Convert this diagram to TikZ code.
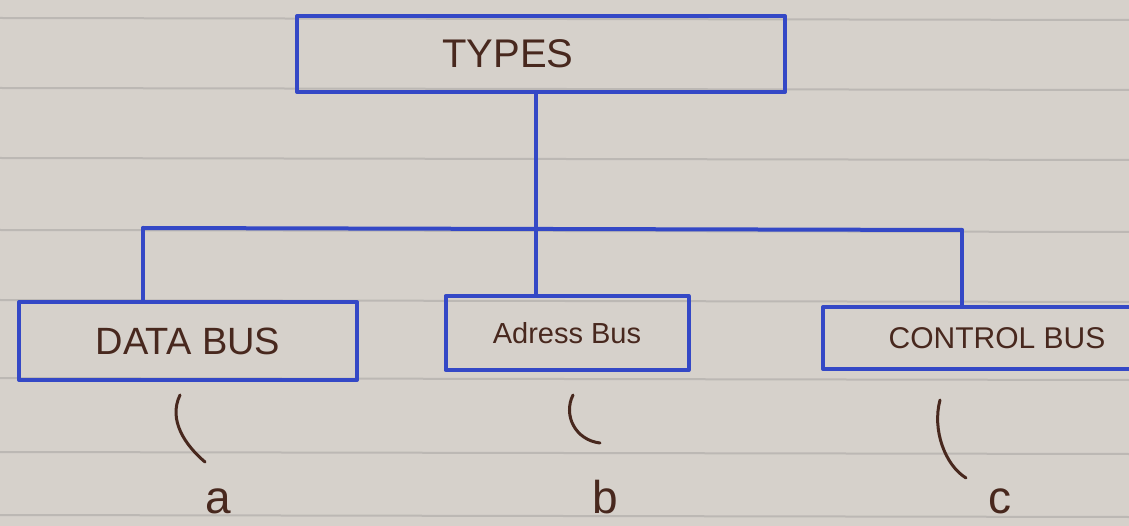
\documentclass[tikz,border=0pt]{standalone}
\usepackage{fontspec}
\setmainfont{Liberation Sans}
\definecolor{paper}{RGB}{214,209,203}
\definecolor{rule}{RGB}{188,184,180}
\definecolor{ink}{RGB}{52,72,198}
\definecolor{pen}{RGB}{72,40,30}
\begin{document}
\begin{tikzpicture}[x=1pt,y=-1pt,
  box/.style={draw=ink, line width=4pt, line join=round, rectangle, inner sep=0pt, text=pen},
  wire/.style={draw=ink, line width=4pt, line cap=round, line join=round},
  tick/.style={draw=pen, line width=3pt, line cap=round},
  letter/.style={text=pen, font=\fontsize{46}{46}\selectfont, inner sep=0pt, anchor=base}]
% paper and its ruling
\fill[paper] (0,0) rectangle (1129,526);
\useasboundingbox (0,0) rectangle (1129,526);
\foreach \y in {18,88,158,230,300,378,452,515}
  \draw[rule, line width=2pt] (0,\y) -- (1129,\y+2);

% boxes
\node[box, minimum width=488pt, minimum height=76pt,
      font=\fontsize{40}{40}\selectfont] (types) at (541,54) {\hspace*{-66pt}TYPES};
\node[box, minimum width=338pt, minimum height=78pt,
      font=\fontsize{38}{38}\selectfont] (data) at (188,341) {DATA BUS};
\node[box, minimum width=243pt, minimum height=74pt,
      font=\fontsize{29}{29}\selectfont] (adr) at (567,333) {Adress Bus};
\node[box, minimum width=312pt, minimum height=62pt, anchor=west,
      font=\fontsize{30}{30}\selectfont] (ctl) at (821,338) {\hspace*{36pt}CONTROL BUS};

% tree connectors
\coordinate (bl) at (143,228);
\coordinate (br) at (962,230);
\draw[wire] (types.south -| 536,0) -- (adr.north -| 536,0);
\draw[wire] (bl) -- (br);
\draw[wire] (bl) -- (data.north -| bl);
\draw[wire] (br) -- (ctl.north -| br);

% hand strokes to the labels
\coordinate (ta1) at (180,395);
\coordinate (ta2) at (205,462);
\coordinate (tb1) at (573,395);
\coordinate (tb2) at (600,443);
\coordinate (tc1) at (940,400);
\coordinate (tc2) at (966,478);
\draw[tick] (ta1) .. controls (168,420) and (185,445) .. (ta2);
\draw[tick] (tb1) .. controls (563,415) and (575,440) .. (tb2);
\draw[tick] (tc1) .. controls (932,430) and (945,465) .. (tc2);

% letters
\node[letter] (la) at (218,513) {a};
\node[letter] (lb) at (605,513) {b};
\node[letter] (lc) at (1000,513) {c};
\end{tikzpicture}
\end{document}
